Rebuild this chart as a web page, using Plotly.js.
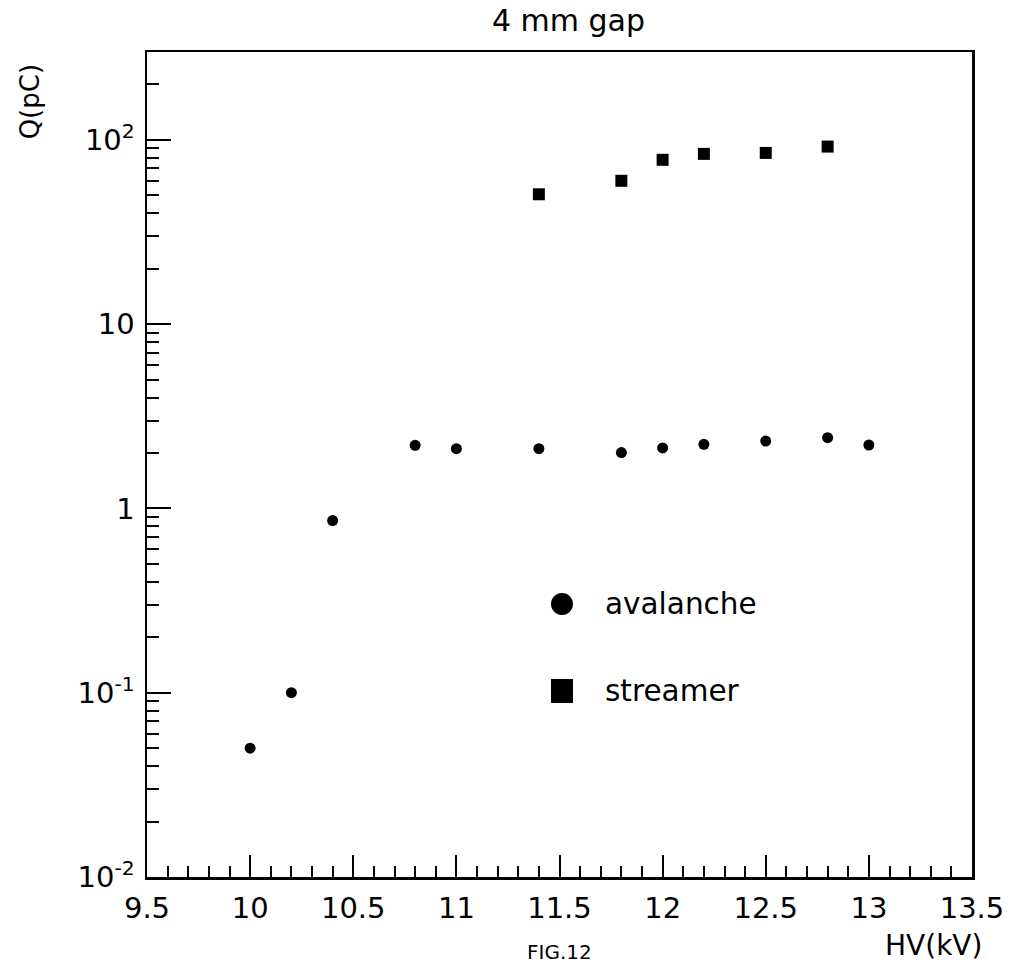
<!DOCTYPE html>
<html>
<head>
<meta charset="utf-8">
<script src="https://cdn.plot.ly/plotly-3.0.1.min.js"></script>
<style>html,body{margin:0;padding:0;background:#fff;}#chart{width:1017px;height:967px;}</style>
</head>
<body>
<div id="chart"></div>
<script>
// ---- data ----
const avalancheHV = [10.0, 10.2, 10.4, 10.8, 11.0, 11.4, 11.8, 12.0, 12.2, 12.5, 12.8, 13.0];
const avalancheQ  = [0.05, 0.10, 0.86, 2.20, 2.11, 2.11, 2.01, 2.13, 2.23, 2.32, 2.42, 2.21];
const streamerHV  = [11.4, 11.8, 12.0, 12.2, 12.5, 12.8];
const streamerQ   = [50.7, 60, 78, 84, 85, 92];

const xTickVals = [9.5, 10, 10.5, 11, 11.5, 12, 12.5, 13, 13.5];
const xTickText = ['9.5', '10', '10.5', '11', '11.5', '12', '12.5', '13', '13.5'];
const yTickVals = [0.01, 0.1, 1, 10, 100];
const yTickText = ['10<sup>-2</sup>', '10<sup>-1</sup>', '1', '10', '10<sup>2</sup>'];

const seriesNames = ['avalanche', 'streamer'];
const titleText = '4 mm gap';
const xTitle = 'HV(kV)';
const yTitle = 'Q(pC)';
const captionText = 'FIG.12';

// minor log ticks 2..9 per decade
const yMinor = [];
for (let e = -2; e <= 2; e++) {
  for (let m = 2; m <= 9; m++) {
    const v = m * Math.pow(10, e);
    if (v <= 300) yMinor.push(v);
  }
}

const FONT = 'DejaVu Sans, Liberation Sans, sans-serif';

const traces = [
  {
    x: avalancheHV, y: avalancheQ, type: 'scatter', mode: 'markers', name: seriesNames[0],
    marker: {symbol: 'circle', size: 11, color: 'black'}, showlegend: false
  },
  {
    x: streamerHV, y: streamerQ, type: 'scatter', mode: 'markers', name: seriesNames[1],
    marker: {symbol: 'square', size: 12, color: 'black'}, showlegend: false
  }
];

const axisCommon = {
  showline: true, linecolor: 'black', linewidth: 2.5, mirror: true,
  showgrid: false, zeroline: false,
  ticks: 'inside', tickcolor: 'black', tickwidth: 2,
  tickfont: {family: FONT, size: 29, color: 'black'}
};

const layout = {
  width: 1017, height: 967,
  paper_bgcolor: 'white', plot_bgcolor: 'white',
  margin: {l: 147, r: 45, t: 52, b: 90},
  showlegend: false,
  title: {
    text: titleText, font: {family: FONT, size: 30, color: 'black'},
    x: 0.559, xanchor: 'center', y: 0.979, yanchor: 'middle', xref: 'container', yref: 'container'
  },
  xaxis: Object.assign({}, axisCommon, {
    range: [9.5, 13.5], tickmode: 'array', tickvals: xTickVals, ticktext: xTickText,
    ticklen: 22, ticklabelstandoff: 4,
    minor: {ticks: 'inside', ticklen: 11, tickwidth: 2, tickcolor: 'black', tickmode: 'linear', tick0: 9.5, dtick: 0.1, showgrid: false}
  }),
  yaxis: Object.assign({}, axisCommon, {
    type: 'log', range: [-2, Math.log10(300)], tickmode: 'array', tickvals: yTickVals, ticktext: yTickText,
    ticklen: 24, ticklabelstandoff: 4,
    minor: {ticks: 'inside', ticklen: 12, tickwidth: 2, tickcolor: 'black', tickmode: 'array', tickvals: yMinor, showgrid: false}
  }),
  annotations: [
    {text: xTitle, xref: 'paper', yref: 'paper', x: 1.0145, y: -0.0836, xanchor: 'right', yanchor: 'middle',
     showarrow: false, font: {family: FONT, size: 28, color: 'black'}},
    {text: yTitle, xref: 'paper', yref: 'paper', x: -0.1418, y: 0.939, xanchor: 'center', yanchor: 'middle',
     textangle: -90, showarrow: false, font: {family: FONT, size: 26, color: 'black'}},
    {text: seriesNames[0], xref: 'paper', yref: 'paper', x: 0.553, y: 0.331, xanchor: 'left', yanchor: 'middle',
     showarrow: false, font: {family: FONT, size: 29.5, color: 'black'}},
    {text: seriesNames[1], xref: 'paper', yref: 'paper', x: 0.553, y: 0.2255, xanchor: 'left', yanchor: 'middle',
     showarrow: false, font: {family: FONT, size: 29.5, color: 'black'}},
    {text: captionText, xref: 'paper', yref: 'paper', x: 0.5, y: -0.1079, xanchor: 'center', yanchor: 'bottom',
     showarrow: false, font: {family: FONT, size: 20, color: 'black'}}
  ],
  shapes: [
    {type: 'circle', xref: 'paper', yref: 'paper', xsizemode: 'pixel', ysizemode: 'pixel',
     xanchor: 0.503, yanchor: 0.331, x0: -11, x1: 11, y0: -11, y1: 11,
     fillcolor: 'black', line: {color: 'black', width: 0}},
    {type: 'rect', xref: 'paper', yref: 'paper', xsizemode: 'pixel', ysizemode: 'pixel',
     xanchor: 0.503, yanchor: 0.2255, x0: -11, x1: 11, y0: -12, y1: 12,
     fillcolor: 'black', line: {color: 'black', width: 0}}
  ]
};

Plotly.newPlot('chart', traces, layout, {displayModeBar: false, staticPlot: true});
</script>
</body>
</html>
